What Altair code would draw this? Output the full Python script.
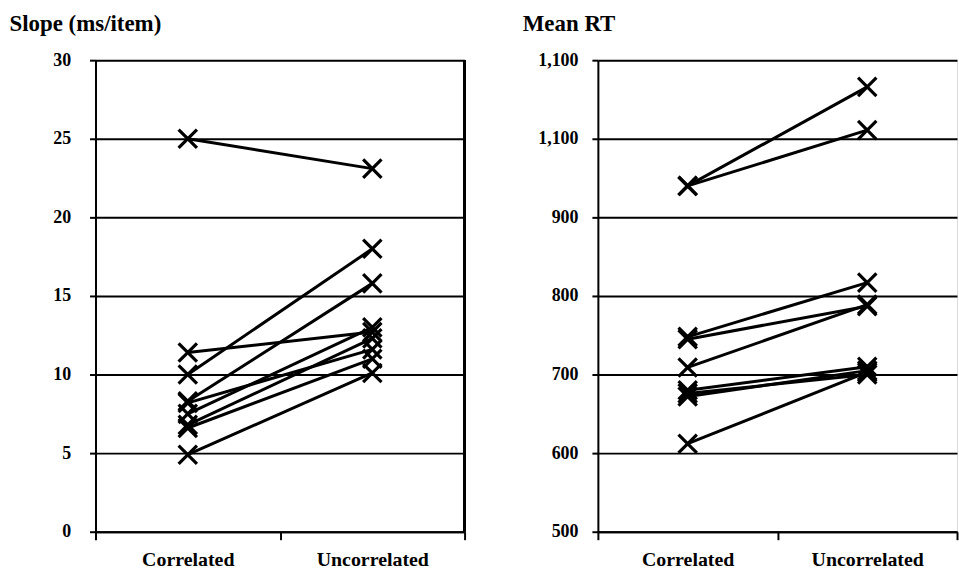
import altair as alt
import pandas as pd

conditions = ["Correlated", "Uncorrelated"]
subjects = [1, 2, 3, 4, 5, 6, 7, 8, 9]

slope_corr = [25.0, 11.4, 10.0, 8.3, 8.2, 7.5, 6.8, 6.6, 4.9]
slope_uncorr = [23.1, 12.7, 18.0, 15.8, 11.6, 13.0, 12.3, 11.0, 10.1]

rt_corr = [940, 940, 748, 745, 709, 680, 672, 676, 612]
rt_uncorr = [1066, 1011, 817, 787, 789, 710, 705, 700, 703]

slope_ticks = [0, 5, 10, 15, 20, 25, 30]
slope_tick_labels = ["0", "5", "10", "15", "20", "25", "30"]
rt_ticks = [500, 600, 700, 800, 900, 1000, 1100]
rt_tick_labels = ["500", "600", "700", "800", "900", "1,100", "1,100"]

slope_title = "Slope (ms/item)"
rt_title = "Mean RT"

FONT = "Liberation Serif"


def long_table(corr, uncorr):
    rows = []
    for s, a, b in zip(subjects, corr, uncorr):
        rows.append({"subject": s, "condition": conditions[0], "value": a})
        rows.append({"subject": s, "condition": conditions[1], "value": b})
    return pd.DataFrame(rows)


def label_expr(ticks, labels):
    parts = " : ".join(
        f"datum.value == {t} ? '{l}'" for t, l in zip(ticks, labels)
    )
    return parts + " : ''"


X_SHAPE = "M-1,-1L1,1M-1,1L1,-1"


def panel(df, ticks, labels, title, width, height, title_x, label_pad, border):
    x = alt.X(
        "condition:N",
        sort=conditions,
        scale=alt.Scale(domain=conditions, paddingInner=0, paddingOuter=0),
        axis=alt.Axis(
            title=None,
            labelAngle=0,
            tickBand="extent",
            grid=False,
            domainColor="black",
            domainWidth=2,
            tickColor="black",
            tickWidth=2,
            tickSize=8,
            labelPadding=10,
            labelFont=FONT,
            labelFontSize=20,
            labelFontWeight="bold",
            labelColor="black",
        ),
    )
    y = alt.Y(
        "value:Q",
        scale=alt.Scale(domain=[ticks[0], ticks[-1]], nice=False, zero=False),
        axis=alt.Axis(
            title=title,
            values=ticks,
            labelExpr=label_expr(ticks, labels),
            grid=True,
            gridColor="black",
            gridWidth=2,
            gridOpacity=1,
            domainColor="black",
            domainWidth=2,
            tickColor="black",
            tickWidth=2,
            tickSize=6,
            labelPadding=label_pad,
            labelFont=FONT,
            labelFontSize=18,
            labelFontWeight="bold",
            labelColor="black",
            titleAngle=0,
            titleX=title_x,
            titleY=-30,
            titleAlign="left",
            titleBaseline="alphabetic",
            titleFont=FONT,
            titleFontSize=23,
            titleFontWeight="bold",
            titleColor="black",
        ),
    )
    base = alt.Chart(df)
    lines = base.mark_line(color="black", strokeWidth=3).encode(
        x=x, y=y, detail="subject:N"
    )
    points = base.mark_point(
        shape=X_SHAPE, filled=False, color="black", strokeWidth=3.2, size=340, opacity=1
    ).encode(x=x, y=y, detail="subject:N")
    layers = [lines, points]
    if border:
        layers.append(
            alt.Chart(df).mark_rule(color="black", strokeWidth=2).encode(
                x=alt.value(width), y=alt.value(0), y2=alt.value(height)
            )
        )
    return alt.layer(*layers).properties(width=width, height=height)


left = panel(
    long_table(slope_corr, slope_uncorr),
    slope_ticks, slope_tick_labels, slope_title,
    371, 474, -87, 19, True,
)
right = panel(
    long_table(rt_corr, rt_uncorr),
    rt_ticks, rt_tick_labels, rt_title,
    361, 474, -76, 14, False,
)

chart = (
    alt.hconcat(left, right, spacing=55)
    .properties(padding={"left": 8, "top": 10, "right": 0, "bottom": 0})
    .configure_view(stroke=None)
    .configure(background="white")
)

chart.save("out.html", embed_options={"renderer": "svg", "actions": False})
